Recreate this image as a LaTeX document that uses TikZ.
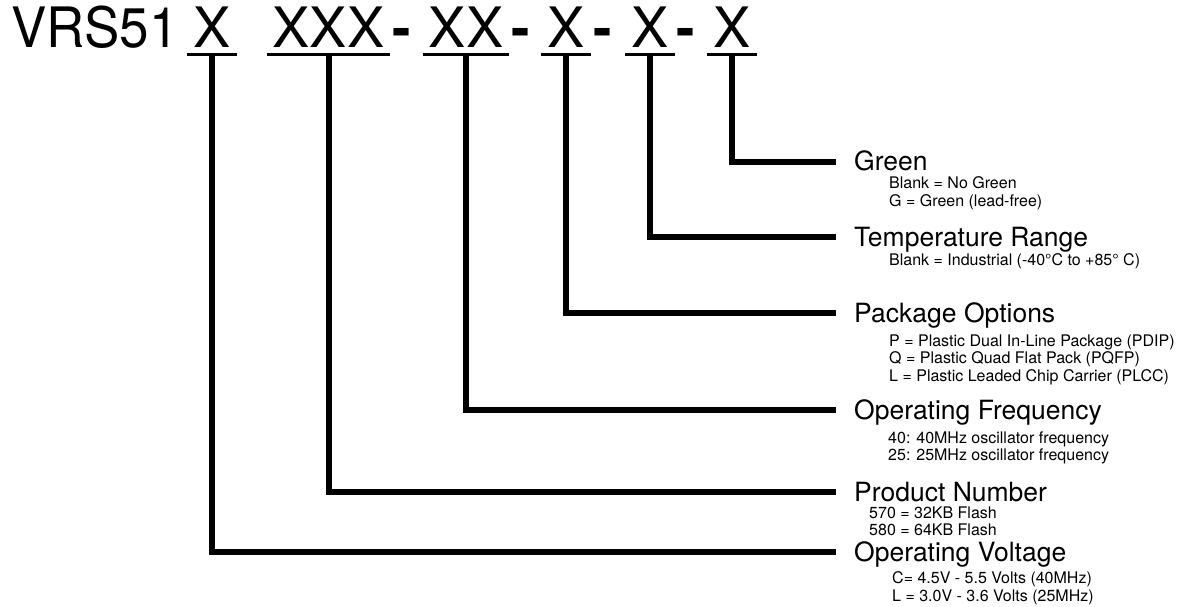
\documentclass[tikz,border=0pt]{standalone}
\usepackage{fontspec}
\setmainfont{TeX Gyre Heros}
\usetikzlibrary{positioning}

\begin{document}
\begin{tikzpicture}[
  x=1pt, y=-1pt,
  big/.style={font=\fontsize{55.7}{60}\selectfont, inner sep=0pt},
  digit/.style={big, inner xsep=6pt, text height=40pt, text depth=6.5pt, anchor=base},
  hyph/.style={big, font=\fontsize{55.7}{60}\selectfont\bfseries, anchor=base},
  heading/.style={font=\fontsize{26.5}{30}\selectfont, inner sep=0pt, text height=19pt, text depth=1pt, anchor=west},
  info/.style={font=\fontsize{16}{17.5}\selectfont, inner sep=0pt, align=left},
  lead/.style={line width=6pt, shorten >=18pt},
  uline/.style={line width=3.5pt}
]
\useasboundingbox (0,0) rectangle (1178,607);

% part number
\node[big, anchor=base west] (vrs) at (11,48) {\scalebox{0.95}[1]{VRS51}};
\node[digit] (dVolt) at (212,48) {X};
\node[digit] (dProd) at (328.5,48) {XXX};
\node[hyph] (h1) at (402,48) {-};
\node[digit] (dFreq) at (466,48) {XX};
\node[hyph] (h2) at (521,48) {-};
\node[digit] (dPkg) at (566,48) {X};
\node[hyph] (h3) at (603,48) {-};
\node[digit] (dTemp) at (650,48) {X};
\node[hyph] (h4) at (686,48) {-};
\node[digit] (dGreen) at (732,48) {X};
\foreach \d in {dVolt,dProd,dFreq,dPkg,dTemp,dGreen}
  \draw[uline] (\d.south west) -- (\d.south east);

% fields
\node[heading] (green) at (854,162) {Green};
\node[heading] (temp) at (854,237) {Temperature Range};
\node[heading] (pkg) at (854,313) {Package Options};
\node[heading] (freq) at (854,410) {Operating Frequency};
\node[heading] (prod) at (854,492) {Product Number};
\node[heading] (volt) at (854,552) {Operating Voltage};

\node[info, below right=5.4pt and 35pt of green.base west] (greenD) {Blank = No Green\\G = Green (lead-free)};
\node[info, below right=7.4pt and 35pt of temp.base west] (tempD) {Blank = Industrial (-40°C to +85° C)};
\node[info, below right=12.4pt and 35pt of pkg.base west] (pkgD) {P = Plastic Dual In-Line Package (PDIP)\\Q = Plastic Quad Flat Pack (PQFP)\\L = Plastic Leaded Chip Carrier (PLCC)};
\node[info, below right=12.4pt and 34pt of freq.base west] (freqD) {40: 40MHz oscillator frequency\\25: 25MHz oscillator frequency};
\node[info, below right=5.4pt and 15pt of prod.base west] (prodD) {570 = 32KB Flash\\580 = 64KB Flash};
\node[info, below right=10.4pt and 38pt of volt.base west] (voltD) {C= 4.5V - 5.5 Volts (40MHz)\\L = 3.0V - 3.6 Volts (25MHz)};

\draw[lead] (dGreen.south) |- (green.west);
\draw[lead] (dTemp.south) |- (temp.west);
\draw[lead] (dPkg.south) |- (pkg.west);
\draw[lead] (dFreq.south) |- (freq.west);
\draw[lead] (dProd.south) |- (prod.west);
\draw[lead] (dVolt.south) |- (volt.west);
\end{tikzpicture}
\end{document}
